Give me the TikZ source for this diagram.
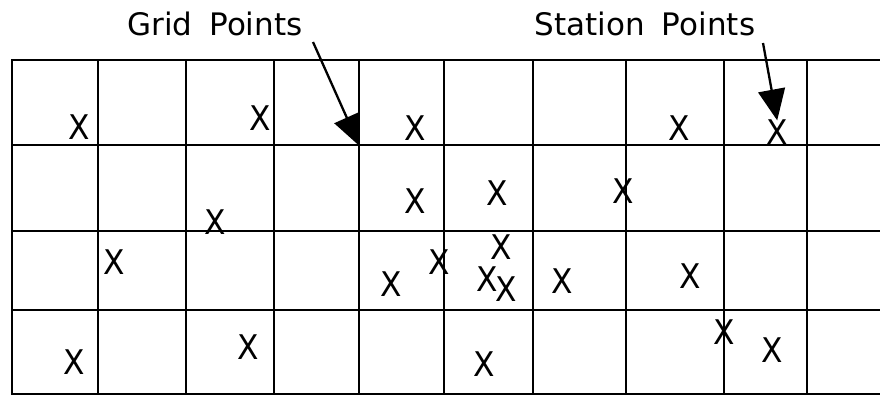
\documentclass[tikz,border=0pt]{standalone}
\usepackage{fontspec}
\setmainfont{DejaVu Sans}
\usetikzlibrary{arrows.meta}
\begin{document}
\begin{tikzpicture}[x=1pt,y=-1pt,
  gridline/.style={line width=2.3pt, line cap=rect},
  lbl/.style={inner sep=0pt, font=\fontsize{31}{33}\selectfont},
  stn/.style={inner sep=0pt, font=\fontsize{34}{36}\selectfont},
  pointer/.style={line width=2.3pt, -{Triangle[length=31pt,width=27pt]}, shorten >=-1pt}]
\useasboundingbox (0,0) rectangle (880,396);
% grid
\foreach \yy in {60,145,231,310,394} \draw[gridline] (12,\yy) -- (880,\yy);
\foreach \xx in {12,98,186,274,359,444,533,626,724,807} \draw[gridline] (\xx,60) -- (\xx,394);
% labels
\node[lbl] (gridlbl) at (215,24) {Grid\hspace{7pt} Points};
\node[lbl] (stnlbl) at (645,24) {Station\hspace{7pt} Points};
% station points
\newcommand{\stx}{\scalebox{0.92}[1]{X}}
\foreach \nm/\px/\py in {s1/79/127, s2/260/118, s3/415/128, s4/679/128, s5/777/132,
  s6/415/201, s7/497/193, s8/623/191, s9/215/222,
  s10/114/262, s11/439/262, s12/391/284, s13/501/247, s14/487/279, s15/506/289,
  s16/562/281, s17/690/276, s18/724/332, s19/772/350, s20/484/364, s21/74/362, s22/248/347}
  \node[stn] (\nm) at (\px,\py) {\stx};
% pointers
\coordinate (gtail) at (313,42);
\coordinate (gpt) at (359,145);
\coordinate (stail) at (763,43);
\draw[pointer] (gtail) -- (gpt);
\draw[pointer] (stail) -- (s5.north);
\end{tikzpicture}
\end{document}
